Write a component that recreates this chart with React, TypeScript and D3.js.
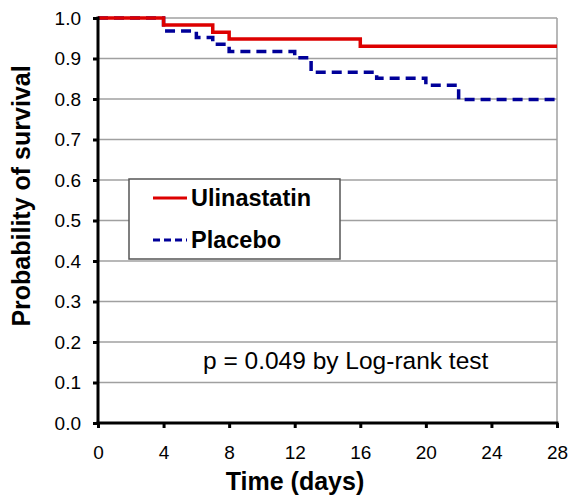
import React, { useEffect, useRef } from 'react';
import * as d3 from 'd3';

// Kaplan-Meier steps: [day, survival after that day]
const ulinastatin: [number, number][] = [
  [0, 1.0], [4, 0.983], [7, 0.965], [8, 0.948], [16, 0.93], [28, 0.93],
];
const placebo: [number, number][] = [
  [0, 1.0], [4, 0.968], [6, 0.952], [7, 0.935], [8, 0.917], [12, 0.902],
  [13, 0.866], [17, 0.851], [20, 0.834], [22, 0.799], [28, 0.799],
];
const xTicks = [0, 4, 8, 12, 16, 20, 24, 28];
const yTicks = [0, 0.1, 0.2, 0.3, 0.4, 0.5, 0.6, 0.7, 0.8, 0.9, 1.0];

const App = () => {
  const ref = useRef<SVGSVGElement>(null);

  useEffect(() => {
    const svg = d3.select(ref.current);
    svg.selectAll('*').remove();

    const x = d3.scaleLinear().domain([0, 28]).range([98, 557]);
    const y = d3.scaleLinear().domain([0, 1]).range([423, 18]);
    const font = 'Liberation Sans, Arial, sans-serif';

    // gridlines
    svg
      .append('g')
      .selectAll('line')
      .data(yTicks.slice(1))
      .enter()
      .append('line')
      .attr('x1', x(0))
      .attr('x2', x(28))
      .attr('y1', (d) => y(d))
      .attr('y2', (d) => y(d))
      .attr('stroke', '#a0a0a0')
      .attr('stroke-width', 1.5);

    // right border
    svg
      .append('line')
      .attr('x1', x(28))
      .attr('x2', x(28))
      .attr('y1', y(1))
      .attr('y2', y(0))
      .attr('stroke', '#a0a0a0')
      .attr('stroke-width', 1.5);

    // legend box
    const lg = svg.append('g');
    lg.append('rect')
      .attr('x', 129)
      .attr('y', 179)
      .attr('width', 211)
      .attr('height', 80)
      .attr('fill', '#fff')
      .attr('stroke', '#555')
      .attr('stroke-width', 1.5);

    const line = d3
      .line<[number, number]>()
      .x((d) => x(d[0]))
      .y((d) => y(d[1]))
      .curve(d3.curveStepAfter);

    svg
      .append('path')
      .datum(placebo)
      .attr('fill', 'none')
      .attr('stroke', '#000099')
      .attr('stroke-width', 3.5)
      .attr('stroke-dasharray', '10,6')
      .attr('d', line);

    svg
      .append('path')
      .datum(ulinastatin)
      .attr('fill', 'none')
      .attr('stroke', '#dd0000')
      .attr('stroke-width', 3.5)
      .attr('d', line);

    // axes
    const yAxis = svg
      .append('g')
      .attr('transform', `translate(${x(0)},0)`)
      .call(d3.axisLeft(y).tickValues(yTicks).tickSize(5).tickPadding(12).tickFormat(d3.format('.1f')));
    const xAxis = svg
      .append('g')
      .attr('transform', `translate(0,${y(0)})`)
      .call(d3.axisBottom(x).tickValues(xTicks).tickSize(5).tickPadding(18));

    [xAxis, yAxis].forEach((g) => {
      g.select('.domain').remove();
      g.selectAll('line').attr('stroke', '#000').attr('stroke-width', 3);
      g.selectAll('text')
        .attr('font-family', font)
        .attr('font-size', 19)
        .attr('fill', '#000');
    });

    svg
      .append('line')
      .attr('x1', x(0))
      .attr('x2', x(0))
      .attr('y1', y(1) - 1.5)
      .attr('y2', y(0) + 1.5)
      .attr('stroke', '#000')
      .attr('stroke-width', 3);
    svg
      .append('line')
      .attr('x1', x(0) - 1.5)
      .attr('x2', x(28) + 1.5)
      .attr('y1', y(0))
      .attr('y2', y(0))
      .attr('stroke', '#000')
      .attr('stroke-width', 3);

    // legend entries
    lg.append('line')
      .attr('x1', 153).attr('x2', 187).attr('y1', 198).attr('y2', 198)
      .attr('stroke', '#dd0000').attr('stroke-width', 3);
    lg.append('line')
      .attr('x1', 153).attr('x2', 187).attr('y1', 240).attr('y2', 240)
      .attr('stroke', '#000099').attr('stroke-width', 3)
      .attr('stroke-dasharray', '7,4');
    lg.append('text')
      .attr('x', 191).attr('y', 206)
      .attr('font-family', font).attr('font-size', 23.5).attr('font-weight', 'bold')
      .text('Ulinastatin');
    lg.append('text')
      .attr('x', 191).attr('y', 248)
      .attr('font-family', font).attr('font-size', 23.5).attr('font-weight', 'bold')
      .text('Placebo');

    // annotations
    svg
      .append('text')
      .attr('x', 203)
      .attr('y', 369)
      .attr('font-family', font)
      .attr('font-size', 24.5)
      .text('p = 0.049 by Log-rank test');

    svg
      .append('text')
      .attr('x', 295)
      .attr('y', 490)
      .attr('text-anchor', 'middle')
      .attr('font-family', font)
      .attr('font-size', 25)
      .attr('font-weight', 'bold')
      .text('Time (days)');

    svg
      .append('text')
      .attr('transform', `translate(30,196) rotate(-90)`)
      .attr('text-anchor', 'middle')
      .attr('font-family', font)
      .attr('font-size', 25)
      .attr('font-weight', 'bold')
      .text('Probability of survival');
  }, []);

  return (
    <svg
      ref={ref}
      width={570}
      height={495}
      style={{ position: 'absolute', left: 0, top: 0, background: '#fff' }}
    />
  );
};

export default App;
